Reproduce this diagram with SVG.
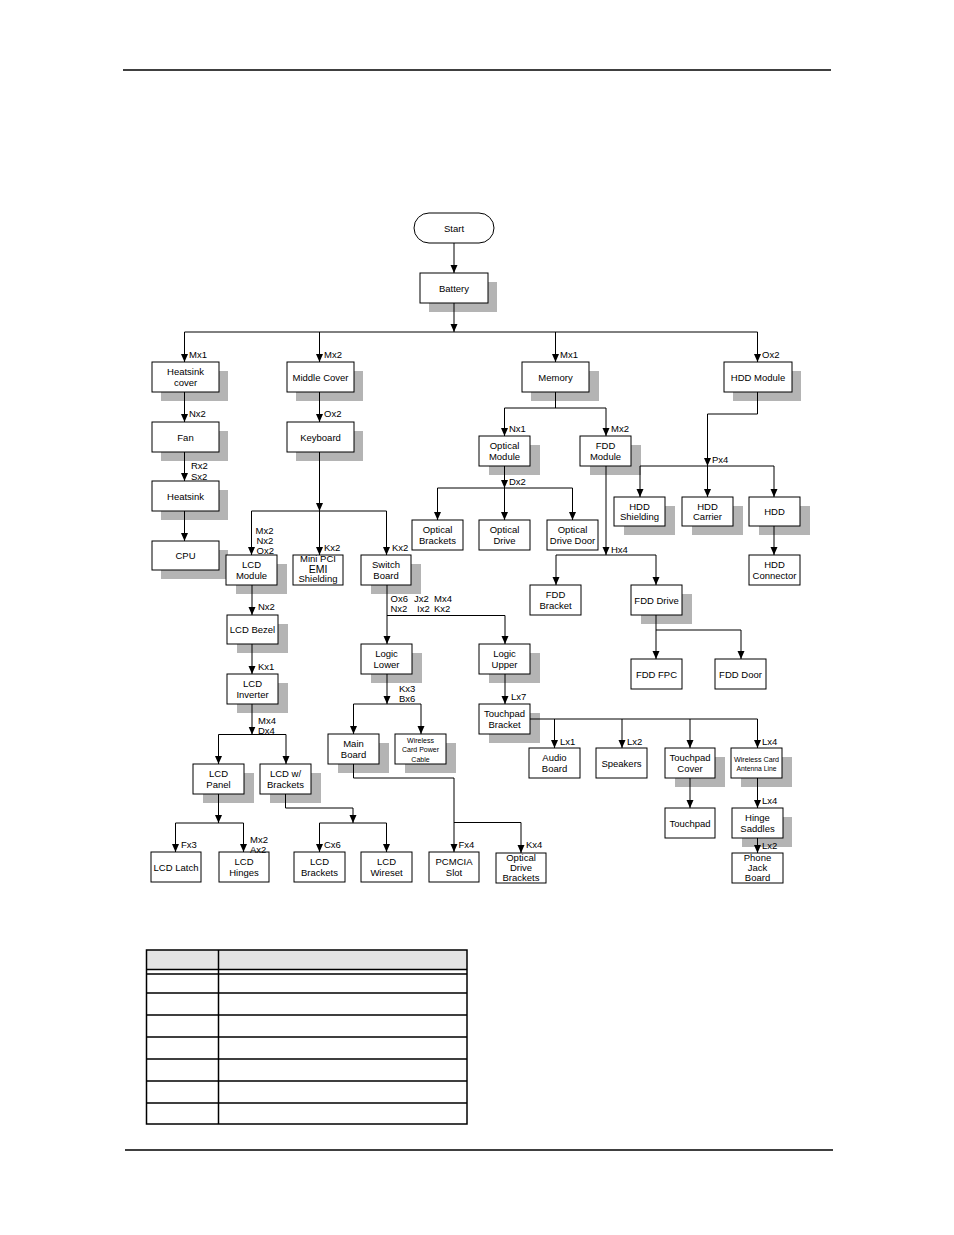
<svg xmlns="http://www.w3.org/2000/svg" width="954" height="1235" viewBox="0 0 954 1235">
<style>
  .bx{fill:#fff;stroke:#000;stroke-width:1}
  .sh{fill:#b4b4b4;stroke:none}
  .t{font-family:"Liberation Sans",Arial,sans-serif;font-size:9.5px;fill:#000;text-anchor:middle}
  .s{font-size:7px}
  .l{font-family:"Liberation Sans",Arial,sans-serif;font-size:9.5px;fill:#000}
  .c{fill:none;stroke:#000;stroke-width:1}
  .a{marker-end:url(#arr)}
  .tb{fill:none;stroke:#000;stroke-width:1.5}
</style>
<defs>
  <marker id="arr" markerUnits="userSpaceOnUse" markerWidth="9" markerHeight="8" refX="8" refY="3.5" orient="auto">
    <path d="M0,0 L8,3.5 L0,7 Z" fill="#000"/>
  </marker>
</defs>
<rect width="954" height="1235" fill="#fff"/>
<line x1="123" y1="70" x2="831" y2="70" stroke="#000" stroke-width="1.5"/>
<line x1="125" y1="1150" x2="833" y2="1150" stroke="#000" stroke-width="1.5"/>

<!-- nodes -->
<g id="start"><rect class="bx" x="414" y="213" width="80" height="30" rx="15"/><text class="t" x="454" y="231.5">Start</text></g>
<g id="battery"><rect class="sh" x="429" y="282" width="68" height="30"/><rect class="bx" x="420" y="273" width="68" height="30"/><text class="t" x="454" y="291.5">Battery</text></g>
<g id="heatsink-cover"><rect class="sh" x="161" y="371" width="67" height="30"/><rect class="bx" x="152" y="362" width="67" height="30"/><text class="t" x="185.5" y="375">Heatsink</text><text class="t" x="185.5" y="386">cover</text></g>
<g id="middle-cover"><rect class="sh" x="296" y="371" width="67" height="30"/><rect class="bx" x="287" y="362" width="67" height="30"/><text class="t" x="320.5" y="380.5">Middle Cover</text></g>
<g id="memory"><rect class="sh" x="531" y="371" width="68" height="30"/><rect class="bx" x="522" y="362" width="67" height="30"/><text class="t" x="555.5" y="380.5">Memory</text></g>
<g id="hdd-module"><rect class="sh" x="733" y="371" width="68" height="30"/><rect class="bx" x="724" y="362" width="68" height="30"/><text class="t" x="758" y="380.5">HDD Module</text></g>
<g id="fan"><rect class="sh" x="161" y="431" width="67" height="30"/><rect class="bx" x="152" y="422" width="67" height="30"/><text class="t" x="185.5" y="440.5">Fan</text></g>
<g id="keyboard"><rect class="sh" x="296" y="431" width="67" height="30"/><rect class="bx" x="287" y="422" width="67" height="30"/><text class="t" x="320.5" y="440.5">Keyboard</text></g>
<g id="optical-module"><rect class="sh" x="489" y="445" width="51" height="30"/><rect class="bx" x="479" y="436" width="51" height="30"/><text class="t" x="504.5" y="449">Optical</text><text class="t" x="504.5" y="460">Module</text></g>
<g id="fdd-module"><rect class="sh" x="590" y="445" width="51" height="30"/><rect class="bx" x="580" y="436" width="51" height="30"/><text class="t" x="605.5" y="449">FDD</text><text class="t" x="605.5" y="460">Module</text></g>
<g id="heatsink"><rect class="sh" x="161" y="490" width="67" height="30"/><rect class="bx" x="152" y="481" width="67" height="30"/><text class="t" x="185.5" y="499.5">Heatsink</text></g>
<g id="cpu"><rect class="sh" x="161" y="550" width="67" height="29"/><rect class="bx" x="152" y="541" width="67" height="29"/><text class="t" x="185.5" y="559">CPU</text></g>
<g id="optical-brackets"><rect class="bx" x="412" y="520" width="51" height="30"/><text class="t" x="437.5" y="533">Optical</text><text class="t" x="437.5" y="544">Brackets</text></g>
<g id="optical-drive"><rect class="bx" x="479" y="520" width="51" height="30"/><text class="t" x="504.5" y="533">Optical</text><text class="t" x="504.5" y="544">Drive</text></g>
<g id="optical-drive-door"><rect class="bx" x="547" y="520" width="51" height="30"/><text class="t" x="572.5" y="533">Optical</text><text class="t" x="572.5" y="544">Drive Door</text></g>
<g id="hdd-shielding"><rect class="sh" x="624" y="506" width="51" height="29"/><rect class="bx" x="614" y="497" width="51" height="29"/><text class="t" x="639.5" y="509.5">HDD</text><text class="t" x="639.5" y="520">Shielding</text></g>
<g id="hdd-carrier"><rect class="sh" x="692" y="506" width="51" height="29"/><rect class="bx" x="682" y="497" width="51" height="29"/><text class="t" x="707.5" y="509.5">HDD</text><text class="t" x="707.5" y="520">Carrier</text></g>
<g id="hdd"><rect class="sh" x="759" y="506" width="51" height="29"/><rect class="bx" x="749" y="497" width="51" height="29"/><text class="t" x="774.5" y="515">HDD</text></g>
<g id="hdd-connector"><rect class="bx" x="749" y="555" width="51" height="30"/><text class="t" x="774.5" y="568">HDD</text><text class="t" x="774.5" y="579">Connector</text></g>
<g id="lcd-module"><rect class="sh" x="236" y="564" width="51" height="30"/><rect class="bx" x="226" y="555" width="51" height="30"/><text class="t" x="251.5" y="568">LCD</text><text class="t" x="251.5" y="579">Module</text></g>
<g id="mini-pci-emi-shielding"><rect class="bx" x="293" y="555" width="50" height="30"/><text class="t" x="318" y="562">Mini PCI</text><text class="t" x="318" y="572.5" style="font-size:10.5px">EMI</text><text class="t" x="318" y="582">Shielding</text></g>
<g id="switch-board"><rect class="sh" x="371" y="564" width="50" height="30"/><rect class="bx" x="361" y="555" width="50" height="30"/><text class="t" x="386" y="568">Switch</text><text class="t" x="386" y="579">Board</text></g>
<g id="fdd-bracket"><rect class="bx" x="530" y="585" width="51" height="30"/><text class="t" x="555.5" y="598">FDD</text><text class="t" x="555.5" y="609">Bracket</text></g>
<g id="fdd-drive"><rect class="sh" x="641" y="594" width="51" height="30"/><rect class="bx" x="631" y="585" width="51" height="30"/><text class="t" x="656.5" y="603.5">FDD Drive</text></g>
<g id="lcd-bezel"><rect class="sh" x="237" y="624" width="51" height="29"/><rect class="bx" x="227" y="615" width="51" height="29"/><text class="t" x="252.5" y="633">LCD Bezel</text></g>
<g id="logic-lower"><rect class="sh" x="371" y="653" width="51" height="30"/><rect class="bx" x="361" y="644" width="51" height="30"/><text class="t" x="386.5" y="657">Logic</text><text class="t" x="386.5" y="668">Lower</text></g>
<g id="logic-upper"><rect class="sh" x="489" y="653" width="51" height="30"/><rect class="bx" x="479" y="644" width="51" height="30"/><text class="t" x="504.5" y="657">Logic</text><text class="t" x="504.5" y="668">Upper</text></g>
<g id="fdd-fpc"><rect class="bx" x="631" y="659" width="51" height="30"/><text class="t" x="656.5" y="677.5">FDD FPC</text></g>
<g id="fdd-door"><rect class="bx" x="715" y="659" width="51" height="30"/><text class="t" x="740.5" y="677.5">FDD Door</text></g>
<g id="lcd-inverter"><rect class="sh" x="237" y="683" width="51" height="30"/><rect class="bx" x="227" y="674" width="51" height="30"/><text class="t" x="252.5" y="687">LCD</text><text class="t" x="252.5" y="698">Inverter</text></g>
<g id="touchpad-bracket"><rect class="sh" x="489" y="713" width="51" height="30"/><rect class="bx" x="479" y="704" width="51" height="30"/><text class="t" x="504.5" y="717">Touchpad</text><text class="t" x="504.5" y="728">Bracket</text></g>
<g id="main-board"><rect class="sh" x="338" y="743" width="51" height="30"/><rect class="bx" x="328" y="734" width="51" height="30"/><text class="t" x="353.5" y="747">Main</text><text class="t" x="353.5" y="758">Board</text></g>
<g id="wireless-card-power-cable"><rect class="sh" x="405" y="743" width="51" height="30"/><rect class="bx" x="395" y="734" width="51" height="30"/><text class="t s" x="420.5" y="743">Wireless</text><text class="t s" x="420.5" y="752">Card Power</text><text class="t s" x="420.5" y="761.5">Cable</text></g>
<g id="audio-board"><rect class="bx" x="529" y="748" width="51" height="30"/><text class="t" x="554.5" y="761">Audio</text><text class="t" x="554.5" y="772">Board</text></g>
<g id="speakers"><rect class="bx" x="596" y="748" width="51" height="30"/><text class="t" x="621.5" y="766.5">Speakers</text></g>
<g id="touchpad-cover"><rect class="sh" x="675" y="757" width="50" height="30"/><rect class="bx" x="665" y="748" width="50" height="30"/><text class="t" x="690" y="761">Touchpad</text><text class="t" x="690" y="772">Cover</text></g>
<g id="wireless-card-antenna-line"><rect class="sh" x="741" y="757" width="51" height="30"/><rect class="bx" x="731" y="748" width="51" height="30"/><text class="t s" x="756.5" y="762" textLength="45" lengthAdjust="spacingAndGlyphs">Wireless Card</text><text class="t s" x="756.5" y="771" textLength="40" lengthAdjust="spacingAndGlyphs">Antenna Line</text></g>
<g id="lcd-panel"><rect class="sh" x="203" y="773" width="51" height="30"/><rect class="bx" x="193" y="764" width="51" height="30"/><text class="t" x="218.5" y="777">LCD</text><text class="t" x="218.5" y="788">Panel</text></g>
<g id="lcd-w-brackets"><rect class="sh" x="270" y="773" width="51" height="30"/><rect class="bx" x="260" y="764" width="51" height="30"/><text class="t" x="285.5" y="777">LCD w/</text><text class="t" x="285.5" y="788">Brackets</text></g>
<g id="touchpad"><rect class="bx" x="665" y="808" width="50" height="30"/><text class="t" x="690" y="826.5">Touchpad</text></g>
<g id="hinge-saddles"><rect class="sh" x="742" y="817" width="50" height="30"/><rect class="bx" x="732" y="808" width="51" height="30"/><text class="t" x="757.5" y="821">Hinge</text><text class="t" x="757.5" y="832">Saddles</text></g>
<g id="lcd-latch"><rect class="bx" x="151" y="852" width="50" height="30"/><text class="t" x="176" y="870.5">LCD Latch</text></g>
<g id="lcd-hinges"><rect class="bx" x="219" y="852" width="50" height="30"/><text class="t" x="244" y="865">LCD</text><text class="t" x="244" y="876">Hinges</text></g>
<g id="lcd-brackets"><rect class="bx" x="294" y="852" width="51" height="30"/><text class="t" x="319.5" y="865">LCD</text><text class="t" x="319.5" y="876">Brackets</text></g>
<g id="lcd-wireset"><rect class="bx" x="361" y="852" width="51" height="30"/><text class="t" x="386.5" y="865">LCD</text><text class="t" x="386.5" y="876">Wireset</text></g>
<g id="pcmcia-slot"><rect class="bx" x="429" y="852" width="50" height="30"/><text class="t" x="454" y="865">PCMCIA</text><text class="t" x="454" y="876">Slot</text></g>
<g id="optical-drive-brackets"><rect class="bx" x="496" y="853" width="50" height="30"/><text class="t" x="521" y="861">Optical</text><text class="t" x="521" y="871">Drive</text><text class="t" x="521" y="881">Brackets</text></g>
<g id="phone-jack-board"><rect class="bx" x="732" y="853" width="51" height="30"/><text class="t" x="757.5" y="861">Phone</text><text class="t" x="757.5" y="871">Jack</text><text class="t" x="757.5" y="881">Board</text></g>

<!-- connectors -->
<g id="connectors">
  <path class="c a" d="M454,243 V273"/>
  <path class="c a" d="M454,303 V332"/>
  <path class="c" d="M184.5,332 H757.5"/>
  <path class="c a" d="M184.5,332 V362"/>
  <path class="c a" d="M319.5,332 V362"/>
  <path class="c a" d="M555.5,332 V362"/>
  <path class="c a" d="M757.5,332 V362"/>
  <path class="c a" d="M184.5,392 V422"/>
  <path class="c a" d="M184.5,452 V481"/>
  <path class="c a" d="M184.5,511 V541"/>
  <path class="c a" d="M319.5,392 V422"/>
  <path class="c a" d="M319.5,452 V511"/>
  <path class="c" d="M251.5,511 H386.5"/>
  <path class="c a" d="M251.5,511 V555"/>
  <path class="c a" d="M319.5,511 V555"/>
  <path class="c a" d="M386.5,511 V555"/>
  <path class="c" d="M555.5,392 V408"/>
  <path class="c" d="M504.5,408 H606"/>
  <path class="c a" d="M504.5,408 V436"/>
  <path class="c a" d="M606,408 V436"/>
  <path class="c a" d="M504.5,466 V488"/>
  <path class="c" d="M437.5,488 H572.5"/>
  <path class="c a" d="M437.5,488 V520"/>
  <path class="c a" d="M504.5,488 V520"/>
  <path class="c a" d="M572.5,488 V520"/>
  <path class="c a" d="M606,466 V555"/>
  <path class="c" d="M556,555 H656"/>
  <path class="c a" d="M556,555 V585"/>
  <path class="c a" d="M656,555 V585"/>
  <path class="c a" d="M757.5,392 V414 H707.5 V466"/>
  <path class="c" d="M640,466 H774"/>
  <path class="c a" d="M640,466 V497"/>
  <path class="c a" d="M707.5,466 V497"/>
  <path class="c a" d="M774,466 V497"/>
  <path class="c a" d="M774,526 V555"/>
  <path class="c" d="M656,615 V630 H741"/>
  <path class="c a" d="M656,630 V659"/>
  <path class="c a" d="M741,630 V659"/>
  <path class="c a" d="M252,585 V615"/>
  <path class="c a" d="M252,644 V674"/>
  <path class="c a" d="M252,704 V734.5"/>
  <path class="c" d="M218.5,734.5 H286"/>
  <path class="c a" d="M218.5,734.5 V764"/>
  <path class="c a" d="M286,734.5 V764"/>
  <path class="c a" d="M218.5,794 V823"/>
  <path class="c" d="M175.5,823 H243.5"/>
  <path class="c a" d="M175.5,823 V852"/>
  <path class="c a" d="M243.5,823 V852"/>
  <path class="c a" d="M285.5,794 V808 H353 V823"/>
  <path class="c" d="M319.5,823 H386.5"/>
  <path class="c a" d="M319.5,823 V852"/>
  <path class="c a" d="M386.5,823 V852"/>
  <path class="c a" d="M387,585 V644"/>
  <path class="c a" d="M387,615.5 H505 V644"/>
  <path class="c a" d="M387,674 V704"/>
  <path class="c" d="M353.5,704 H421"/>
  <path class="c a" d="M353.5,704 V734"/>
  <path class="c a" d="M421,704 V734"/>
  <path class="c a" d="M353.5,764 V778 H454 V852"/>
  <path class="c a" d="M454,822.5 H521 V853"/>
  <path class="c a" d="M505,674 V704"/>
  <path class="c" d="M530,719 H757.5"/>
  <path class="c a" d="M554.5,719 V748"/>
  <path class="c a" d="M622,719 V748"/>
  <path class="c a" d="M690,719 V748"/>
  <path class="c a" d="M757.5,719 V748"/>
  <path class="c a" d="M690,778 V808"/>
  <path class="c a" d="M757.5,778 V808"/>
  <path class="c a" d="M757.5,838 V853"/>
</g>

<!-- connector labels -->
<g id="labels">
  <text class="l" x="189" y="358">Mx1</text>
  <text class="l" x="324" y="358">Mx2</text>
  <text class="l" x="560" y="358">Mx1</text>
  <text class="l" x="762" y="358">Ox2</text>
  <text class="l" x="189" y="417">Nx2</text>
  <text class="l" x="324" y="417">Ox2</text>
  <text class="l" x="509" y="431.5">Nx1</text>
  <text class="l" x="611" y="431.5">Mx2</text>
  <text class="l" x="712" y="462.5">Px4</text>
  <text class="l" x="509" y="485">Dx2</text>
  <text class="l" x="611" y="552.5">Hx4</text>
  <text class="l" x="191" y="469">Rx2</text>
  <text class="l" x="191" y="479.5">Sx2</text>
  <text class="l" x="255.5" y="533.5">Mx2</text>
  <text class="l" x="256.5" y="543.5">Nx2</text>
  <text class="l" x="256.5" y="553.5">Ox2</text>
  <text class="l" x="324" y="551">Kx2</text>
  <text class="l" x="392" y="551">Kx2</text>
  <text class="l" x="258" y="610">Nx2</text>
  <text class="l" x="258" y="669.5">Kx1</text>
  <text class="l" x="258" y="723.5">Mx4</text>
  <text class="l" x="258" y="734">Dx4</text>
  <text class="l" x="390.5" y="601.5">Ox6</text>
  <text class="l" x="414" y="601.5">Jx2</text>
  <text class="l" x="434" y="601.5">Mx4</text>
  <text class="l" x="390.5" y="612">Nx2</text>
  <text class="l" x="417" y="612">Ix2</text>
  <text class="l" x="434" y="612">Kx2</text>
  <text class="l" x="399" y="691.5">Kx3</text>
  <text class="l" x="399" y="701.5">Bx6</text>
  <text class="l" x="511" y="699.5">Lx7</text>
  <text class="l" x="560" y="744.5">Lx1</text>
  <text class="l" x="627" y="744.5">Lx2</text>
  <text class="l" x="762" y="744.5">Lx4</text>
  <text class="l" x="762" y="804">Lx4</text>
  <text class="l" x="762" y="848.5">Lx2</text>
  <text class="l" x="181" y="847.5">Fx3</text>
  <text class="l" x="250" y="842.5">Mx2</text>
  <text class="l" x="250" y="852.5">Ax2</text>
  <text class="l" x="324" y="847.5">Cx6</text>
  <text class="l" x="458.5" y="847.5">Fx4</text>
  <text class="l" x="526" y="847.5">Kx4</text>
</g>

<!-- table -->
<g id="table">
  <rect x="146.5" y="950" width="320.5" height="19.5" fill="#e4e4e4"/>
  <rect class="tb" x="146.5" y="950" width="320.5" height="174"/>
  <path class="tb" d="M146.5,969.5 H467 M146.5,974 H467 M146.5,993 H467 M146.5,1015 H467 M146.5,1037 H467 M146.5,1059 H467 M146.5,1081 H467 M146.5,1103 H467 M218.5,950 V1124"/>
</g>
</svg>
